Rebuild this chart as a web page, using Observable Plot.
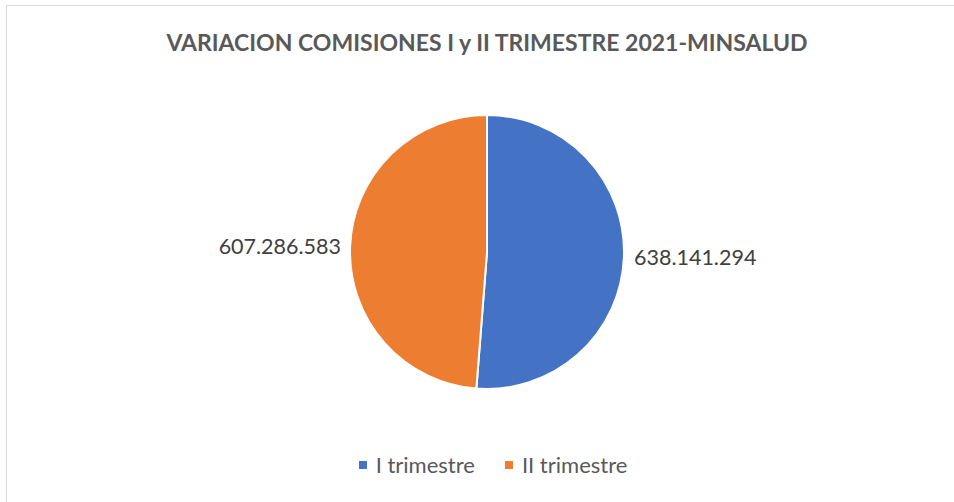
<!DOCTYPE html>
<html>
<head>
<meta charset="utf-8">
<script src="https://cdn.jsdelivr.net/npm/d3@7"></script>
<script src="https://cdn.jsdelivr.net/npm/@observablehq/plot@0.6"></script>
<style>
  html, body { margin: 0; padding: 0; background: #fff; }
  #frame { position: absolute; left: 6px; top: 5px; width: 960px; height: 520px; border: 1.5px solid #d9d9d9; box-sizing: border-box; }
  #title { position: absolute; left: 0; top: 28px; width: 974px; text-align: center; font: bold 23px Lato, sans-serif; color: #595959; }
  #chart { position: absolute; left: 0; top: 80px; }
  #legend { position: absolute; left: 0; top: 451px; width: 986px; display: flex; justify-content: center; gap: 30px; font: 22px Lato, sans-serif; color: #595959; }
  .item { display: flex; align-items: center; gap: 9px; }
  .sw { width: 8px; height: 8px; display: inline-block; }
</style>
</head>
<body>
<div id="frame"></div>
<div id="title">VARIACION COMISIONES I y II TRIMESTRE 2021-MINSALUD</div>
<div id="chart"></div>
<div id="legend"></div>
<script>
const categories = ["I trimestre", "II trimestre"];
const values = [638141294, 607286583];
const labels = ["638.141.294", "607.286.583"];
const colors = ["#4472C4", "#ED7D31"];

const pie = d3.pie().sort(null).value(d => d.value);
const slices = pie(categories.map((c, i) => ({category: c, value: values[i], label: labels[i], color: colors[i]})))
  .map(a => {
    const mid = (a.startAngle + a.endAngle) / 2;
    return {...a, category: a.data.category, label: a.data.label, color: a.data.color,
            lx: 1.07 * Math.sin(mid), ly: 1.07 * Math.cos(mid), side: Math.sin(mid) >= 0 ? "start" : "end"};
  });

const cx = 487, cy = 172, R = 137;

const chart = Plot.plot({
  width: 954,
  height: 350,
  margin: 0,
  x: {domain: [-1, 1], range: [cx - R, cx + R], axis: null},
  y: {domain: [-1, 1], range: [cy + R, cy - R], axis: null},
  color: {domain: categories, range: colors},
  marks: [
    Plot.dot(slices, {
      x: () => 0, y: () => 0, fill: "category",
      render(index, scales, values, dimensions, context) {
        const x0 = scales.x(0), y0 = scales.y(0), r = scales.x(1) - scales.x(0);
        const arc = d3.arc().innerRadius(0).outerRadius(r);
        const g = d3.create("svg:g").attr("transform", `translate(${x0},${y0})`);
        g.selectAll("path").data(index).join("path")
          .attr("d", i => arc(slices[i]))
          .attr("fill", i => scales.color(slices[i].category))
          .attr("stroke", "#fff")
          .attr("stroke-width", 2)
          .attr("stroke-linejoin", "round");
        return g.node();
      }
    }),
    Plot.text(slices.filter(d => d.side === "start"), {x: "lx", y: "ly", text: "label", textAnchor: "start", fontSize: 21.5, fill: "#404040", fontFamily: "Lato, sans-serif"}),
    Plot.text(slices.filter(d => d.side === "end"), {x: "lx", y: "ly", text: "label", textAnchor: "end", fontSize: 21.5, fill: "#404040", fontFamily: "Lato, sans-serif"})
  ]
});
document.getElementById("chart").appendChild(chart);

const legend = d3.select("#legend");
categories.forEach((c, i) => {
  const it = legend.append("div").attr("class", "item");
  it.append("span").attr("class", "sw").style("background", colors[i]);
  it.append("span").text(c);
});
</script>
</body>
</html>
